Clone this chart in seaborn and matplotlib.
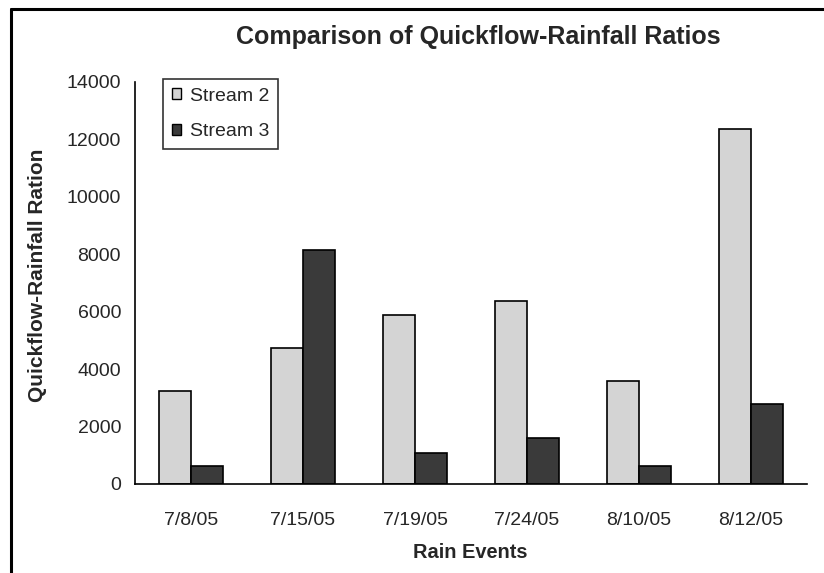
import matplotlib
matplotlib.use("Agg")
import matplotlib.pyplot as plt
import matplotlib.lines as mlines
import matplotlib.patches as mpatches
import pandas as pd
import seaborn as sns

# Rain events and quickflow-rainfall ratios per stream
events = ["7/8/05", "7/15/05", "7/19/05", "7/24/05", "8/10/05", "8/12/05"]
stream2 = [3240, 4750, 5880, 6360, 3590, 12380]
stream3 = [630, 8140, 1070, 1590, 630, 2800]
series_names = ["Stream 2", "Stream 3"]
series_colors = ["#D4D4D4", "#3A3A3A"]
y_ticks = [0, 2000, 4000, 6000, 8000, 10000, 12000, 14000]

df = pd.DataFrame({
    "Event": events * 2,
    "Ratio": stream2 + stream3,
    "Series": [series_names[0]] * len(events) + [series_names[1]] * len(events),
})

sns.set_style("white")
plt.rcParams["font.family"] = ["Liberation Sans", "DejaVu Sans"]

W, H = 824, 573
fig = plt.figure(figsize=(W / 100, H / 100), dpi=100)
ax = fig.add_axes([135 / W, 1 - 484 / H, (807 - 135) / W, (484 - 82) / H])

sns.barplot(
    data=df, x="Event", y="Ratio", hue="Series", order=events,
    hue_order=series_names, palette=series_colors, width=0.57,
    edgecolor="black", linewidth=1.2, saturation=1, ax=ax, legend=False,
)

ax.set_xlim(-0.5, len(events) - 0.5)
ax.set_ylim(0, 14000)
ax.set_yticks(y_ticks)
ax.set_yticklabels([str(v) for v in y_ticks], fontsize=14)

# Category boundary ticks, labels centered under each group
ax.set_xticks([i - 0.5 for i in range(len(events) + 1)])
ax.set_xticklabels([""] * (len(events) + 1))
ax.set_xticks(range(len(events)), minor=True)
ax.set_xticklabels(events, minor=True, fontsize=14)
ax.tick_params(axis="x", which="major", direction="out", length=6, width=1.2, color="black")
ax.tick_params(axis="x", which="minor", length=0, pad=20)
ax.tick_params(axis="y", direction="out", length=6, width=1.2, color="black", pad=4)

ax.set_xlabel("")
ax.set_ylabel("")
for side in ["top", "right"]:
    ax.spines[side].set_visible(False)
for side in ["left", "bottom"]:
    ax.spines[side].set_color("black")
    ax.spines[side].set_linewidth(1.2)

handles = [mpatches.Patch(facecolor=c, edgecolor="black", linewidth=1.0, label=n)
           for n, c in zip(series_names, series_colors)]
leg = ax.legend(
    handles=handles, loc="upper left", bbox_to_anchor=((163 - 135) / (807 - 135), 1.008),
    fontsize=14, frameon=True, fancybox=False, handlelength=0.5, handleheight=0.5,
    handletextpad=0.45, borderpad=0.45, labelspacing=0.95, borderaxespad=0,
)
leg.get_frame().set_edgecolor("black")
leg.get_frame().set_linewidth(1.2)

fig.text(478 / W, 1 - 37 / H, "Comparison of Quickflow-Rainfall Ratios",
         ha="center", va="center", fontsize=18, fontweight="bold")
fig.text(38 / W, 1 - 275 / H, "Quickflow-Rainfall Ration", rotation=90,
         ha="center", va="center", fontsize=15, fontweight="bold")
fig.text(470 / W, 1 - 553 / H, "Rain Events",
         ha="center", va="center", fontsize=14.4, fontweight="bold")

# Frame lines along the top and left edges of the figure
fig.add_artist(mlines.Line2D([11 / W, 1.0], [1 - 9 / H, 1 - 9 / H], color="black", linewidth=2.2))
fig.add_artist(mlines.Line2D([11 / W, 11 / W], [0.0, 1 - 9 / H], color="black", linewidth=2.2))

fig.savefig("out.png", dpi=100, facecolor="white")
